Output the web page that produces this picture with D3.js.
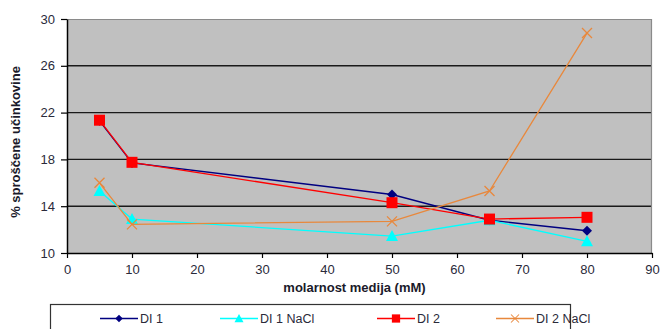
<!DOCTYPE html>
<html>
<head>
<meta charset="utf-8">
<script src="https://cdn.jsdelivr.net/npm/d3@7"></script>
<style>
  html, body { margin: 0; padding: 0; background: #fff; }
  svg { display: block; font-family: Arial, "Liberation Sans", sans-serif; }
</style>
</head>
<body>
<svg id="chart" width="661" height="329"></svg>
<script>
// Molarity of the medium (mM)
const molarity = [5, 10, 50, 65, 80];

// Released drug (%) per formulation
const di1      = [21.3, 17.7, 15.0, 12.8, 11.9];
const di1NaCl  = [15.3, 12.9, 11.45, 12.8, 11.0];
const di2      = [21.35, 17.75, 14.3, 12.9, 13.05];
const di2NaCl  = [16.0, 12.45, 12.7, 15.3, 28.8];

const xTicks = [0, 10, 20, 30, 40, 50, 60, 70, 80, 90];
const yTicks = [10, 14, 18, 22, 26, 30];

const seriesNames = ["DI 1", "DI 1 NaCl", "DI 2", "DI 2 NaCl"];

const series = [
  { name: seriesNames[0], values: di1,     color: "#000080", marker: "diamond" },
  { name: seriesNames[1], values: di1NaCl, color: "#00ffff", marker: "triangle" },
  { name: seriesNames[2], values: di2,     color: "#ff0000", marker: "square" },
  { name: seriesNames[3], values: di2NaCl, color: "#e8883c", marker: "cross" }
];

const svg = d3.select("#chart");
const plot = { left: 67, top: 19, right: 652, bottom: 253 };

const x = d3.scaleLinear().domain([0, 90]).range([plot.left, plot.right]);
const y = d3.scaleLinear().domain([10, 30]).range([plot.bottom, plot.top]);

// plot background
svg.append("rect")
  .attr("x", plot.left).attr("y", plot.top)
  .attr("width", plot.right - plot.left).attr("height", plot.bottom - plot.top)
  .attr("fill", "#c0c0c0");

// horizontal gridlines
svg.append("g").selectAll("line")
  .data(yTicks.filter(v => v > 10 && v < 30))
  .join("line")
  .attr("x1", plot.left).attr("x2", plot.right)
  .attr("y1", d => y(d)).attr("y2", d => y(d))
  .attr("stroke", "#1a1a1a").attr("stroke-width", 1.4);

// top and right border
svg.append("path")
  .attr("d", `M${plot.left},${plot.top + 0.5}H${plot.right - 0.5}V${plot.bottom}`)
  .attr("fill", "none").attr("stroke", "#8a8a8a").attr("stroke-width", 1.2);

// y axis
const yAxis = svg.append("g")
  .attr("transform", `translate(${plot.left},0)`)
  .call(d3.axisLeft(y).tickValues(yTicks).tickSize(6).tickSizeOuter(0).tickPadding(6));
yAxis.select(".domain").attr("stroke", "#000").attr("stroke-width", 1.5);
yAxis.selectAll(".tick line").attr("stroke", "#000").attr("stroke-width", 1.2);
yAxis.selectAll(".tick text").attr("font-size", 13).attr("fill", "#2a2a3a")
  .attr("font-family", "Arial, 'Liberation Sans', sans-serif");

// x axis
const xAxis = svg.append("g")
  .attr("transform", `translate(0,${plot.bottom})`)
  .call(d3.axisBottom(x).tickValues(xTicks).tickSize(5).tickSizeOuter(0).tickPadding(7));
xAxis.select(".domain").attr("stroke", "#000").attr("stroke-width", 1.5);
xAxis.selectAll(".tick line").attr("stroke", "#000").attr("stroke-width", 1.2);
xAxis.selectAll(".tick text").attr("font-size", 13).attr("fill", "#2a2a3a")
  .attr("font-family", "Arial, 'Liberation Sans', sans-serif");

// axis titles
svg.append("text")
  .attr("x", x(45) - 5).attr("y", 292)
  .attr("text-anchor", "middle")
  .attr("font-size", 13).attr("font-weight", "bold").attr("fill", "#1a1a2a")
  .text("molarnost medija (mM)");

svg.append("text")
  .attr("transform", `translate(20,${(plot.top + plot.bottom) / 2 + 6}) rotate(-90)`)
  .attr("text-anchor", "middle")
  .attr("font-size", 13).attr("font-weight", "bold").attr("fill", "#1a1a2a")
  .text("% sproščene učinkovine");

// marker drawing
function drawMarker(g, type, color, cx, cy) {
  if (type === "diamond") {
    g.append("path").attr("d", `M${cx},${cy - 5}L${cx + 5},${cy}L${cx},${cy + 5}L${cx - 5},${cy}Z`)
      .attr("fill", color);
  } else if (type === "triangle") {
    g.append("path").attr("d", `M${cx},${cy - 6}L${cx + 6},${cy + 5}L${cx - 6},${cy + 5}Z`)
      .attr("fill", color);
  } else if (type === "square") {
    g.append("rect").attr("x", cx - 5.5).attr("y", cy - 5.5).attr("width", 11).attr("height", 11)
      .attr("fill", color);
  } else if (type === "cross") {
    g.append("path").attr("d", `M${cx - 5},${cy - 5}L${cx + 5},${cy + 5}M${cx - 5},${cy + 5}L${cx + 5},${cy - 5}`)
      .attr("stroke", color).attr("stroke-width", 1.3).attr("fill", "none");
  }
}

const line = d3.line().x(d => x(d[0])).y(d => y(d[1]));

// series lines and markers (drawn in legend order)
series.forEach(s => {
  const pts = molarity.map((m, i) => [m, s.values[i]]);
  const g = svg.append("g");
  g.append("path").datum(pts).attr("d", line)
    .attr("fill", "none").attr("stroke", s.color).attr("stroke-width", 1.3);
  pts.forEach(p => drawMarker(g, s.marker, s.color, x(p[0]), y(p[1])));
});

// legend
const legend = svg.append("g");
legend.append("rect")
  .attr("x", 50.5).attr("y", 304.5).attr("width", 520).attr("height", 40)
  .attr("fill", "#fff").attr("stroke", "#333").attr("stroke-width", 1.2);

const legendX = [100, 220, 377, 496];
series.forEach((s, i) => {
  const lx = legendX[i], ly = 318.5;
  legend.append("line").attr("x1", lx).attr("x2", lx + 38).attr("y1", ly).attr("y2", ly)
    .attr("stroke", s.color).attr("stroke-width", 1.3);
  const mg = legend.append("g");
  const scale = s.marker === "cross" ? 0.8 : 0.75;
  mg.attr("transform", `translate(${lx + 19},${ly}) scale(${scale})`);
  drawMarker(mg, s.marker, s.color, 0, 0);
  legend.append("text").attr("x", lx + 40).attr("y", ly + 4.5)
    .attr("font-size", 12.5).attr("fill", "#2a2a3a")
    .text(s.name);
});
</script>
</body>
</html>
